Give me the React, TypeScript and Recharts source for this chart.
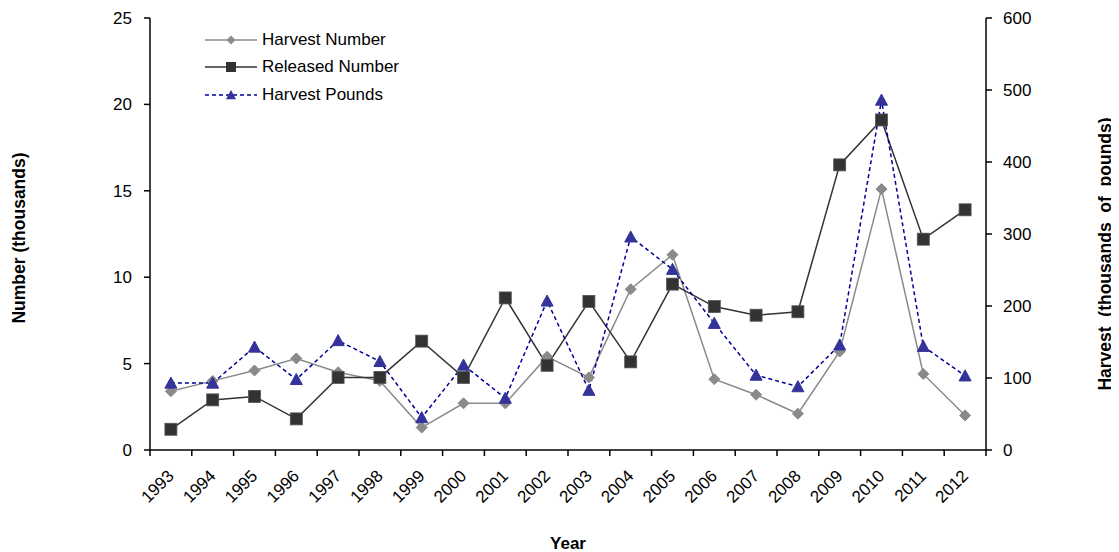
import { Label, Legend, Line, LineChart, XAxis, YAxis } from "recharts";

const YEARS = [
  "1993", "1994", "1995", "1996", "1997", "1998", "1999", "2000", "2001", "2002",
  "2003", "2004", "2005", "2006", "2007", "2008", "2009", "2010", "2011", "2012",
];

// thousands of fish
const HARVEST_NUMBER = [3.4, 4.0, 4.6, 5.3, 4.5, 4.0, 1.3, 2.7, 2.7, 5.4, 4.2, 9.3, 11.3, 4.1, 3.2, 2.1, 5.7, 15.1, 4.4, 2.0];
const RELEASED_NUMBER = [1.2, 2.9, 3.1, 1.8, 4.2, 4.2, 6.3, 4.2, 8.8, 4.9, 8.6, 5.1, 9.6, 8.3, 7.8, 8.0, 16.5, 19.1, 12.2, 13.9];
// thousands of pounds (right axis)
const HARVEST_POUNDS = [93, 93, 143, 98, 152, 123, 45, 118, 72, 207, 83, 296, 251, 176, 104, 88, 146, 486, 144, 103];

const LEFT_TICKS = [0, 5, 10, 15, 20, 25];
const RIGHT_TICKS = [0, 100, 200, 300, 400, 500, 600];

const FONT = '"Liberation Sans", Arial, sans-serif';

// each year sits in the middle of its slot; whole numbers mark the slot edges
const data = YEARS.map((year, i) => ({
  year,
  pos: i + 0.5,
  harvestNumber: HARVEST_NUMBER[i],
  releasedNumber: RELEASED_NUMBER[i],
  harvestPounds: HARVEST_POUNDS[i],
}));
const X_TICKS = Array.from({ length: YEARS.length * 2 + 1 }, (_, i) => i / 2);

const GREY = "#8a8a8a";
const DARK = "#333333";
const BLUE = "#333399";
const NAVY = "#000099";

function diamond(cx: number, cy: number, r: number) {
  return `M${cx},${cy - r} L${cx + r},${cy} L${cx},${cy + r} L${cx - r},${cy} Z`;
}
function triangle(cx: number, cy: number, r: number) {
  return `M${cx},${cy - r} L${cx + r},${cy + r * 0.85} L${cx - r},${cy + r * 0.85} Z`;
}

const DiamondDot = (p: any) =>
  p.cx == null ? null : <path key={`d-${p.index}`} d={diamond(p.cx, p.cy, 5.5)} fill={GREY} stroke={GREY} />;
const SquareDot = (p: any) =>
  p.cx == null ? null : (
    <rect key={`s-${p.index}`} x={p.cx - 6} y={p.cy - 6} width={12} height={12} fill={DARK} stroke="#555" strokeWidth={0.8} />
  );
const TriangleDot = (p: any) =>
  p.cx == null ? null : <path key={`t-${p.index}`} d={triangle(p.cx, p.cy, 6)} fill={BLUE} stroke={BLUE} />;

function YearTick(props: any) {
  const { x, y, payload } = props;
  const v = payload.value as number;
  if (Number.isInteger(v)) {
    return <line x1={x} y1={y} x2={x} y2={y + 6} stroke="#000" strokeWidth={1.5} />;
  }
  const tx = x + 4;
  const ty = y + 27;
  return (
    <text x={tx} y={ty} textAnchor="end" transform={`rotate(-45, ${tx}, ${ty})`} fontSize={17} fontFamily={FONT} fill="#000">
      {YEARS[Math.floor(v)]}
    </text>
  );
}

function LegendBox() {
  const rows = [
    { name: "Harvest Number", color: GREY, dash: undefined, mark: <path d={diamond(26, 10, 4.5)} fill={GREY} /> },
    { name: "Released Number", color: DARK, dash: undefined, mark: <rect x={21} y={5} width={10} height={10} fill={DARK} /> },
    { name: "Harvest Pounds", color: NAVY, dash: "4 3", mark: <path d={triangle(26, 10, 5)} fill={BLUE} /> },
  ];
  return (
    <div style={{ fontFamily: FONT, fontSize: 17, color: "#000" }}>
      {rows.map((r) => (
        <div key={r.name} style={{ display: "flex", alignItems: "center", height: 27.5 }}>
          <svg width={52} height={20}>
            <line x1={0} y1={10} x2={52} y2={10} stroke={r.color} strokeWidth={1.5} strokeDasharray={r.dash} />
            {r.mark}
          </svg>
          <span style={{ marginLeft: 5 }}>{r.name}</span>
        </div>
      ))}
    </div>
  );
}

export default function App() {
  return (
    <LineChart width={1111} height={544} data={data} margin={{ top: 10, right: 0, bottom: 0, left: 0 }}>
      <XAxis
        type="number"
        dataKey="pos"
        domain={[0, YEARS.length]}
        ticks={X_TICKS}
        interval={0}
        tickLine={false}
        tickSize={0}
        tickMargin={0}
        tick={<YearTick />}
        height={102}
        axisLine={{ stroke: "#000", strokeWidth: 1.5 }}
      >
        <Label
          content={({ viewBox }: any) => (
            <text x={viewBox.x + viewBox.width / 2} y={viewBox.y + 99} textAnchor="middle" fontSize={17} fontWeight="bold" fontFamily={FONT}>
              Year
            </text>
          )}
        />
      </XAxis>
      <YAxis
        yAxisId="left"
        width={142}
        domain={[0, 25]}
        ticks={LEFT_TICKS}
        tickSize={6}
        tickMargin={12}
        tick={{ fill: "#000", fontSize: 17, fontFamily: FONT }}
        axisLine={{ stroke: "#000", strokeWidth: 1.5 }}
        tickLine={{ stroke: "#000", strokeWidth: 1.5 }}
      >
        <Label
          content={({ viewBox }: any) => {
            const x = viewBox.x + 17;
            const y = viewBox.y + viewBox.height / 2 + 4;
            return (
              <text x={x} y={y} textAnchor="middle" transform={`rotate(-90, ${x}, ${y})`} fontSize={17.5} fontWeight="bold" fontFamily={FONT}>
                Number (thousands)
              </text>
            );
          }}
        />
      </YAxis>
      <YAxis
        yAxisId="right"
        orientation="right"
        width={133}
        domain={[0, 600]}
        ticks={RIGHT_TICKS}
        tickSize={6}
        tickMargin={11}
        tick={{ fill: "#000", fontSize: 17, fontFamily: FONT }}
        axisLine={{ stroke: "#000", strokeWidth: 1.5 }}
        tickLine={{ stroke: "#000", strokeWidth: 1.5 }}
      >
        <Label
          content={({ viewBox }: any) => {
            const x = viewBox.x + viewBox.width - 8;
            const y = viewBox.y + viewBox.height / 2 + 20;
            return (
              <text
                x={x}
                y={y}
                textAnchor="middle"
                transform={`rotate(-90, ${x}, ${y})`}
                fontSize={17.5}
                fontWeight="bold"
                fontFamily={FONT}
              >
                {"Harvest\u00a0 (thousands\u00a0 of\u00a0 pounds)"}
              </text>
            );
          }}
        />
      </YAxis>
      <Legend
        layout="vertical"
        align="center"
        verticalAlign="middle"
        content={() => <LegendBox />}
        wrapperStyle={{ left: 197, top: 18, width: "auto" }}
      />
      <Line
        yAxisId="left"
        dataKey="harvestNumber"
        name="Harvest Number"
        stroke={GREY}
        strokeWidth={1.5}
        dot={DiamondDot}
        activeDot={false}
        isAnimationActive={false}
      />
      <Line
        yAxisId="left"
        dataKey="releasedNumber"
        name="Released Number"
        stroke={DARK}
        strokeWidth={1.5}
        dot={SquareDot}
        activeDot={false}
        isAnimationActive={false}
      />
      <Line
        yAxisId="right"
        dataKey="harvestPounds"
        name="Harvest Pounds"
        stroke={NAVY}
        strokeWidth={1.5}
        strokeDasharray="4 3"
        dot={TriangleDot}
        activeDot={false}
        isAnimationActive={false}
      />
    </LineChart>
  );
}
